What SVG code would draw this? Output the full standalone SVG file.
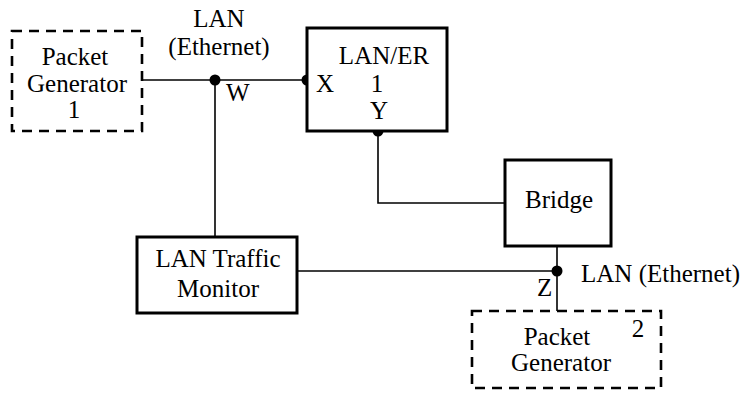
<svg xmlns="http://www.w3.org/2000/svg" width="750" height="394" viewBox="0 0 750 394" font-family="'Liberation Serif', 'DejaVu Serif', serif" font-size="25">
  <style>
    text { fill: #000; }
    .c { text-anchor: middle; }
    .box { fill: #fff; stroke: #000; stroke-width: 3; }
    .dash { fill: #fff; stroke: #000; stroke-width: 2.6; stroke-dasharray: 10 7; }
    .wire { fill: none; stroke: #000; stroke-width: 1.6; }
    .dot { fill: #000; }
  </style>
  <rect width="750" height="394" fill="#fff"/>

  <!-- connectors -->
  <g id="connectors">
    <path class="wire" d="M142 80 H307"/>
    <path class="wire" d="M215 80 V237"/>
    <path class="wire" d="M378 131 V203 H505"/>
    <path class="wire" d="M297 271 H557"/>
    <path class="wire" d="M557 246 V311"/>
    <circle class="dot" cx="215" cy="80" r="5.5"/>
    <circle class="dot" cx="307" cy="80" r="5.5"/>
    <circle class="dot" cx="378" cy="131" r="5.5"/>
    <circle class="dot" cx="557" cy="271" r="5.5"/>
    <text x="219" y="27" class="c">LAN</text>
    <text x="219" y="55" class="c">(Ethernet)</text>
    <text x="226" y="101">W</text>
    <text x="537" y="296">Z</text>
    <text x="581" y="282">LAN (Ethernet)</text>
  </g>

  <g id="packet-generator-1">
    <rect class="dash" x="12" y="31" width="130" height="100"/>
    <text x="75" y="65" class="c">Packet</text>
    <text x="77" y="92" class="c">Generator</text>
    <text x="74" y="118" class="c">1</text>
  </g>

  <g id="lan-er-1">
    <rect class="box" x="307" y="28" width="140" height="103"/>
    <text x="384" y="64" class="c">LAN/ER</text>
    <text x="377" y="92" class="c">1</text>
    <text x="379" y="119" class="c">Y</text>
    <text x="316" y="92">X</text>
  </g>

  <g id="bridge">
    <rect class="box" x="505" y="160" width="106" height="86"/>
    <text x="559" y="208" class="c">Bridge</text>
  </g>

  <g id="lan-traffic-monitor">
    <rect class="box" x="137" y="237" width="160" height="76"/>
    <text x="218" y="267" class="c">LAN Traffic</text>
    <text x="218" y="297" class="c">Monitor</text>
  </g>

  <g id="packet-generator-2">
    <rect class="dash" x="472" y="311" width="189" height="77"/>
    <text x="557" y="345" class="c">Packet</text>
    <text x="561" y="371" class="c">Generator</text>
    <text x="638" y="337" class="c">2</text>
  </g>
</svg>
